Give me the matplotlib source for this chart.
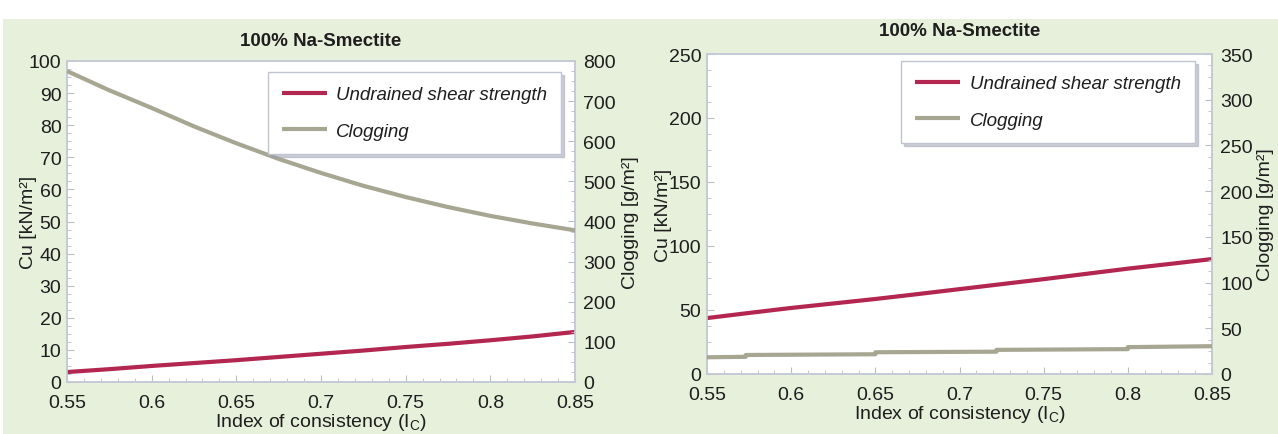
import matplotlib
matplotlib.use("Agg")
import matplotlib.pyplot as plt
from matplotlib.ticker import AutoMinorLocator, MultipleLocator
from matplotlib.patches import Rectangle

plt.rcParams['font.family'] = ['Liberation Sans', 'DejaVu Sans']
plt.rcParams['mathtext.fontset'] = 'custom'
plt.rcParams['mathtext.rm'] = 'Liberation Sans'

# ---------------- data ----------------
title = "100% Na-Smectite"
xlabel = "Index of consistency (I$_\\mathrm{C}$)"
cu_label = "Cu [kN/m²]"
clog_label = "Clogging [g/m²]"
legend_labels = ["Undrained shear strength", "Clogging"]

ic = [0.55, 0.575, 0.60, 0.625, 0.65, 0.675, 0.70, 0.725, 0.75, 0.775, 0.80, 0.825, 0.85]

# left panel
cu_left = [3.1, 4.0, 5.0, 5.9, 6.8, 7.8, 8.8, 9.8, 10.9, 11.9, 13.0, 14.2, 15.6]
clog_left = [775, 727, 683, 637, 595, 556, 521, 489, 461, 436, 414, 395, 378]

# right panel
cu_right = [43.7, 47.7, 51.6, 55.1, 58.6, 62.4, 66.3, 70.2, 74.1, 78.2, 82.3, 86.0, 89.8]
clog_right_ic = [0.55, 0.573, 0.573, 0.65, 0.65, 0.722, 0.722, 0.80, 0.80, 0.85]
clog_right = [18.3, 18.8, 20.8, 21.6, 23.8, 24.4, 26.4, 27.2, 29.4, 30.4]

xticks = [0.55, 0.6, 0.65, 0.7, 0.75, 0.8, 0.85]
xticklabels = ["0.55", "0.6", "0.65", "0.7", "0.75", "0.8", "0.85"]

# ---------------- style ----------------
RED = "#b3264f"
GREY = "#a6a692"
BG = "#e7f0da"
SPINE = "#c5cad6"
TXT = "#1e1e1e"
W, H = 1278, 435
FS = 14

fig = plt.figure(figsize=(W / 100, H / 100), dpi=100)
fig.patch.set_facecolor("white")
fig.patches.append(Rectangle((3 / W, 0), 1 - 3 / W, 1 - 20 / H, transform=fig.transFigure,
                             facecolor=BG, edgecolor="none", zorder=-10))


def make_panel(px_left, px_right, px_top, px_bottom, cu_x, cu_y, cl_x, cl_y,
               cu_max, cu_step, cl_max, cl_step, leg_anchor, title_y, ylab_pad_l, ylab_pad_r):
    ax = fig.add_axes([px_left / W, 1 - px_bottom / H, (px_right - px_left) / W,
                       (px_bottom - px_top) / H])
    ax2 = ax.twinx()
    ax.set_facecolor("white")
    l1, = ax.plot(cu_x, cu_y, color=RED, lw=3.0, solid_capstyle="butt", zorder=3)
    l2, = ax2.plot(cl_x, cl_y, color=GREY, lw=3.0, solid_capstyle="butt", zorder=3)
    ax.set_xlim(0.55, 0.85)
    ax.set_ylim(0, cu_max)
    ax2.set_ylim(0, cl_max)
    ax.set_xticks(xticks)
    ax.set_xticklabels(xticklabels)
    ax.yaxis.set_major_locator(MultipleLocator(cu_step))
    ax2.yaxis.set_major_locator(MultipleLocator(cl_step))
    ax.xaxis.set_minor_locator(AutoMinorLocator(5))
    ax.yaxis.set_minor_locator(AutoMinorLocator(4))
    ax2.yaxis.set_minor_locator(AutoMinorLocator(4))
    for a in (ax, ax2):
        for s in a.spines.values():
            s.set_color(SPINE)
            s.set_linewidth(1.2)
        a.tick_params(which="both", direction="in", color="#b8bcc8", labelsize=FS,
                      labelcolor=TXT)
        a.tick_params(which="major", length=5, width=0.8)
        a.tick_params(which="minor", length=3, width=0.6)
    ax.tick_params(axis="x", pad=9)
    ax.tick_params(axis="y", pad=4)
    ax2.tick_params(axis="y", pad=6)
    ax.set_xlabel(xlabel, fontsize=FS, color=TXT, labelpad=0)
    ax.set_ylabel(cu_label, fontsize=FS, color=TXT, labelpad=ylab_pad_l)
    ax2.set_ylabel(clog_label, fontsize=FS, color=TXT, labelpad=ylab_pad_r)
    fig.text((px_left + px_right) / 2 / W, 1 - title_y / H, title, ha="center", va="center",
             fontsize=13.5, fontweight="bold", color=TXT)
    leg = ax2.legend([l1, l2], legend_labels, loc="upper right", bbox_to_anchor=leg_anchor,
                     prop={"style": "italic", "size": 13.5}, frameon=True, fancybox=False,
                     shadow={"color": "#9aa0b0", "alpha": 0.5}, handlelength=2.4,
                     labelspacing=1.05, borderpad=0.75, handletextpad=0.5, borderaxespad=0)
    leg.get_frame().set_edgecolor("#c0c4d0")
    leg.get_frame().set_linewidth(1.0)
    for t in leg.get_texts():
        t.set_color(TXT)
    return ax, ax2


make_panel(67, 575, 62, 383, ic, cu_left, ic, clog_left, 100, 10, 800, 100,
           (0.973, 0.966), 42, -6, 4)
make_panel(707, 1212, 55, 375, ic, cu_right, clog_right_ic, clog_right, 250, 50, 350, 50,
           (0.966, 0.978), 32, -2, 3)

fig.savefig("out.png", dpi=100, facecolor=fig.get_facecolor())
